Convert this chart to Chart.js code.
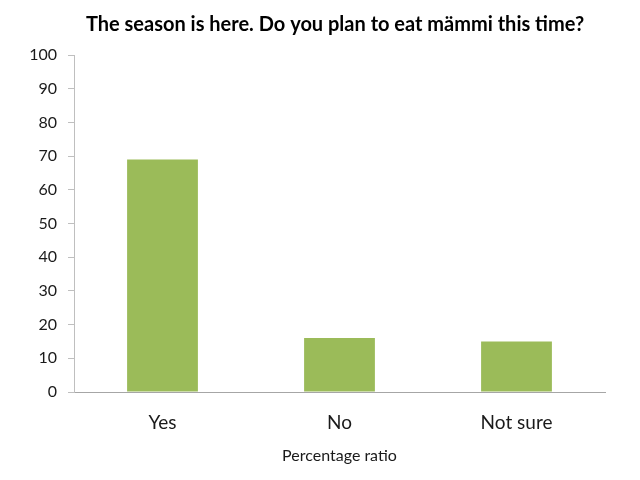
<!DOCTYPE html>
<html>
<head>
<meta charset="utf-8">
<script src="https://cdn.jsdelivr.net/npm/chart.js@4/dist/chart.umd.min.js"></script>
<style>
html,body{margin:0;padding:0;background:#fff;}
#c{display:block;}
</style>
</head>
<body>
<canvas id="c" width="640" height="480"></canvas>
<script>
const categories = ["Yes", "No", "Not sure"];
const values = [69, 16, 15];
const chartTitle = "The season is here. Do you plan to eat m\u00e4mmi this time?";
const xAxisTitle = "Percentage ratio";
const yMin = 0, yMax = 100, yStep = 10;

const FONT = "Lato, 'Open Sans', sans-serif";

new Chart(document.getElementById('c'), {
  type: 'bar',
  data: {
    labels: categories,
    datasets: [{
      data: values,
      backgroundColor: '#9BBB59',
      borderWidth: 0,
      barPercentage: 0.4,
      categoryPercentage: 1.0
    }]
  },
  options: {
    responsive: false,
    animation: false,
    layout: { padding: { left: 30, right: 0, top: 0, bottom: 0 } },
    plugins: {
      legend: { display: false },
      tooltip: { enabled: false },
      title: {
        display: true,
        text: chartTitle,
        color: '#000',
        font: { family: FONT, size: 20, weight: 'bold', lineHeight: 1.2 },
        padding: { top: 13, bottom: 18 }
      }
    },
    scales: {
      x: {
        grid: { display: false, drawTicks: false },
        border: { display: true, color: '#a6a6a6', width: 1 },
        ticks: { color: '#1a1a1a', font: { family: FONT, size: 19, lineHeight: 1.2 }, padding: 19 },
        title: {
          display: true,
          text: xAxisTitle,
          color: '#1a1a1a',
          font: { family: FONT, size: 16, lineHeight: 1.2 },
          padding: { top: 0, bottom: 15 }
        },
        afterFit: (s) => { s.height = 88; }
      },
      y: {
        min: yMin,
        max: yMax,
        grid: { drawOnChartArea: false, drawTicks: true, tickLength: 6, color: '#bfbfbf' },
        border: { display: true, color: '#bfbfbf', width: 1 },
        ticks: { stepSize: yStep, color: '#1a1a1a', font: { family: FONT, size: 16 }, padding: 11 },
        afterFit: (s) => { s.width = 44; }
      },
      yRight: {
        type: 'linear',
        position: 'right',
        display: true,
        min: yMin,
        max: yMax,
        grid: { display: false, drawTicks: false },
        border: { display: false },
        ticks: { display: false },
        afterFit: (s) => { s.width = 35; }
      }
    }
  }
});
</script>
</body>
</html>
